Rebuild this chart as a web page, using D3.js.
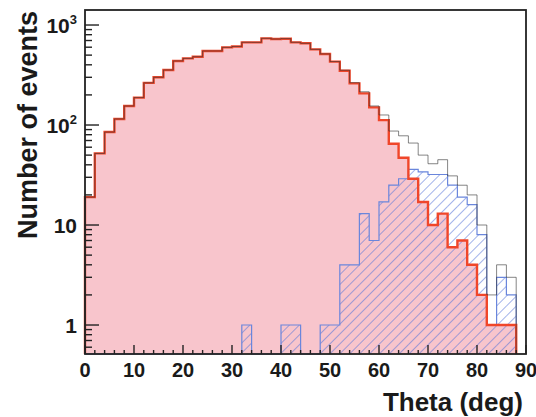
<!DOCTYPE html>
<html>
<head>
<meta charset="utf-8">
<script src="https://cdn.jsdelivr.net/npm/d3@7"></script>
<style>
  html, body { margin: 0; padding: 0; background: #fff; }
  svg text { font-family: "Liberation Sans", Arial, Helvetica, sans-serif; font-weight: bold; fill: #1a1a1a; }
</style>
</head>
<body>
<svg id="chart" width="536" height="417"></svg>
<script>
// Theta histograms, 2-degree bins (lower edges)
const binLow = [0, 2, 4, 6, 8, 10, 12, 14, 16, 18, 20, 22, 24, 26, 28, 30, 32, 34, 36, 38, 40, 42,
                44, 46, 48, 50, 52, 54, 56, 58, 60, 62, 64, 66, 68, 70, 72, 74, 76, 78, 80, 82, 84, 86];
const binWidth = 2;

// All events (outline)
const totalCounts = [19, 52, 85, 115, 155, 188, 264, 300, 355, 437, 464, 482, 550, 550, 598, 610, 672, 671,
                     736, 724, 731, 672, 656, 571, 514, 431, 353, 265, 215, 155, 126, 87, 78, 66, 50, 41,
                     45, 31, 25, 20, 10, 2, 4, 3];
// Selected sample (pink fill, red outline)
const redCounts = [19, 52, 85, 115, 155, 188, 264, 300, 355, 437, 464, 482, 550, 550, 598, 610, 671, 671,
                   736, 724, 730, 671, 656, 571, 513, 430, 349, 261, 207, 150, 112, 65, 47, 29, 17, 10,
                   13, 6, 7, 4, 2, 1, 1, 1];
// Rejected sample (blue hatch)
const blueCounts = [0, 0, 0, 0, 0, 0, 0, 0, 0, 0, 0, 0, 0, 0, 0, 0, 1, 0, 0, 0, 1, 1, 0, 0, 1, 1,
                    4, 4, 13, 7, 17, 25, 29, 36, 34, 32, 32, 25, 19, 16, 8, 1, 3, 2];

const xTickValues = [0, 10, 20, 30, 40, 50, 60, 70, 80, 90];
const yTickValues = [1, 10, 100, 1000];
const yTickLabels = [["1", ""], ["10", ""], ["10", "2"], ["10", "3"]];
const xTitle = "Theta (deg)";
const yTitle = "Number of events";

const svg = d3.select("#chart");
const plot = { left: 85, right: 526, top: 10, bottom: 354 };

const x = d3.scaleLinear().domain([0, 90]).range([plot.left, plot.right]);
const y = d3.scaleLog().domain([0.513, 1413]).range([plot.bottom, plot.top]);

// hatch pattern for the blue histogram
const defs = svg.append("defs");
const pat = defs.append("pattern")
  .attr("id", "hatch")
  .attr("patternUnits", "userSpaceOnUse")
  .attr("width", 7)
  .attr("height", 7)
  .attr("patternTransform", "rotate(45)");
pat.append("line")
  .attr("x1", 0).attr("y1", 0).attr("x2", 0).attr("y2", 7)
  .attr("stroke", "#5272d8").attr("stroke-width", 1.1);

// step path through bins; zero bins drop to the baseline
function stepPoints(counts) {
  const pts = [[x(binLow[0]), plot.bottom]];
  counts.forEach((c, i) => {
    const yy = c > 0 ? y(c) : plot.bottom;
    pts.push([x(binLow[i]), yy]);
    pts.push([x(binLow[i] + binWidth), yy]);
  });
  pts.push([x(binLow[binLow.length - 1] + binWidth), plot.bottom]);
  return pts;
}
const line = d3.line();

// pink filled selected sample
svg.append("path")
  .attr("d", line(stepPoints(redCounts)) + "Z")
  .attr("fill", "#f8c5cc")
  .attr("stroke", "none");

// blue hatched sample, one rect per non-empty bin
svg.append("g").selectAll("rect")
  .data(blueCounts.map((c, i) => ({ c, lo: binLow[i] })).filter(d => d.c > 0))
  .join("rect")
  .attr("x", d => x(d.lo))
  .attr("width", d => x(d.lo + binWidth) - x(d.lo))
  .attr("y", d => y(d.c))
  .attr("height", d => plot.bottom - y(d.c))
  .attr("fill", "url(#hatch)");

svg.append("path")
  .attr("d", line(stepPoints(blueCounts)))
  .attr("fill", "none")
  .attr("stroke", "#6a86dc")
  .attr("stroke-width", 1.2);

// red outline
svg.append("path")
  .attr("d", line(stepPoints(redCounts)))
  .attr("fill", "none")
  .attr("stroke", "#f0462a")
  .attr("stroke-width", 2.4);

// total outline
svg.append("path")
  .attr("d", line(stepPoints(totalCounts)))
  .attr("fill", "none")
  .attr("stroke", "#333")
  .attr("stroke-opacity", 0.6)
  .attr("stroke-width", 1);

// frame
svg.append("rect")
  .attr("x", plot.left).attr("y", plot.top)
  .attr("width", plot.right - plot.left).attr("height", plot.bottom - plot.top)
  .attr("fill", "none").attr("stroke", "#222").attr("stroke-width", 1.8);

// x axis ticks (inward)
const xMinor = d3.range(0, 91, 2).filter(v => v % 10 !== 0);
const xg = svg.append("g");
xg.selectAll("line.maj").data(xTickValues).join("line")
  .attr("x1", d => x(d)).attr("x2", d => x(d))
  .attr("y1", plot.bottom).attr("y2", plot.bottom - 9)
  .attr("stroke", "#222").attr("stroke-width", 1.4);
xg.selectAll("line.min").data(xMinor).join("line")
  .attr("x1", d => x(d)).attr("x2", d => x(d))
  .attr("y1", plot.bottom).attr("y2", plot.bottom - 4)
  .attr("stroke", "#222").attr("stroke-width", 1.4);
xg.selectAll("text").data(xTickValues).join("text")
  .attr("x", d => x(d)).attr("y", 377)
  .attr("text-anchor", "middle")
  .attr("font-size", 20)
  .text(d => d);

// y axis ticks (inward, log)
const yMinor = [];
[0.1, 1, 10, 100].forEach(dec => {
  for (let m = 2; m <= 9; m++) {
    const v = dec * m;
    if (v >= y.domain()[0] && v <= y.domain()[1]) yMinor.push(v);
  }
});
const yg = svg.append("g");
yg.selectAll("line.maj").data(yTickValues).join("line")
  .attr("x1", plot.left).attr("x2", plot.left + 14)
  .attr("y1", d => y(d)).attr("y2", d => y(d))
  .attr("stroke", "#222").attr("stroke-width", 1.4);
yg.selectAll("line.min").data(yMinor).join("line")
  .attr("x1", plot.left).attr("x2", plot.left + 7)
  .attr("y1", d => y(d)).attr("y2", d => y(d))
  .attr("stroke", "#222").attr("stroke-width", 1.4);
const yl = yg.selectAll("text").data(yTickValues).join("text")
  .attr("x", 77).attr("y", d => y(d) + 8)
  .attr("text-anchor", "end")
  .attr("font-size", 21);
yl.each(function (d, i) {
  const t = d3.select(this);
  const [base, sup] = yTickLabels[i];
  t.append("tspan").text(base);
  if (sup) {
    t.append("tspan").attr("dy", -9).attr("font-size", 13).text(sup);
  }
});

// axis titles
svg.append("text")
  .attr("x", 523).attr("y", 411)
  .attr("text-anchor", "end")
  .attr("font-size", 26)
  .text(xTitle);
svg.append("text")
  .attr("transform", "translate(37,125) rotate(-90)")
  .attr("text-anchor", "middle")
  .attr("font-size", 27)
  .text(yTitle);
</script>
</body>
</html>
